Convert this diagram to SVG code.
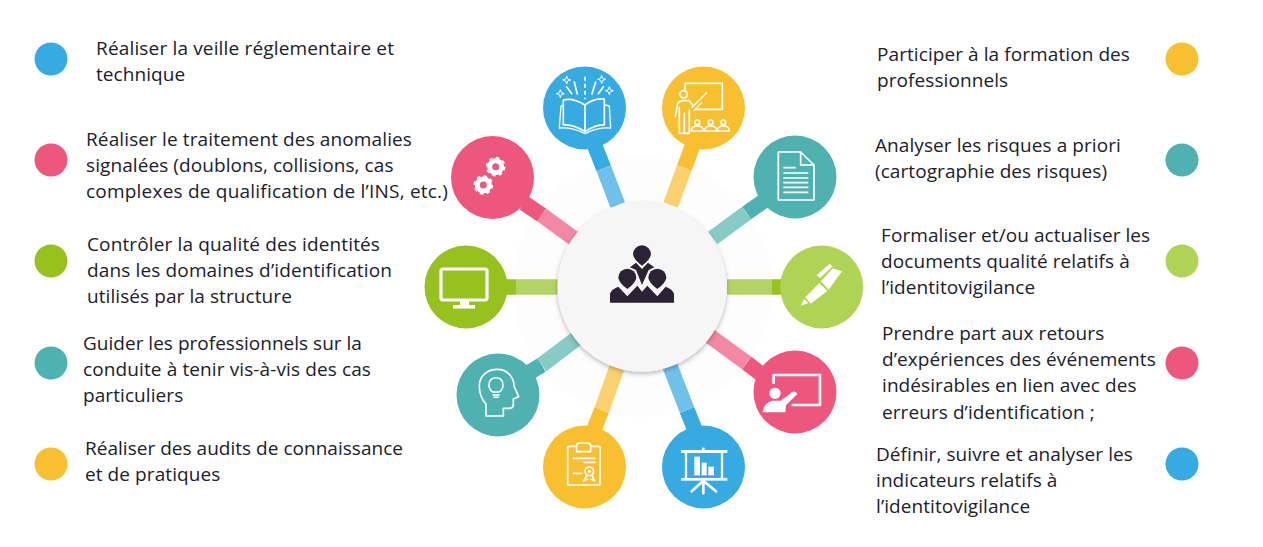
<svg xmlns="http://www.w3.org/2000/svg" width="1263" height="547" viewBox="0 0 1263 547">
<defs>
<style>
.t{font-family:"Open Sans","Noto Sans","Liberation Sans",sans-serif;font-size:19px;letter-spacing:.08px;fill:#20202c}
.s{fill:none;stroke:#fff;stroke-width:5;stroke-linecap:round;stroke-linejoin:round}
.f{fill:#fff}
.blue{fill:#36aae1}.pink{fill:#ee577d}.green{fill:#96c11f}.yellow{fill:#f8c030}.teal{fill:#50b1b1}.lime{fill:#afd355}
.c{fill:none;stroke-width:15.5}
</style>
<filter id="sh" x="-20%" y="-20%" width="140%" height="140%"><feDropShadow dx="0" dy="2" stdDeviation="2.5" flood-color="#000" flood-opacity=".28"/></filter>
<g id="gear"><circle r="25" fill="none" stroke="#fff" stroke-width="9" stroke-dasharray="10 9.6"/><circle r="18" fill="none" stroke="#fff" stroke-width="15"/></g>
<path id="star" d="M0,-12 L3,-3 L12,0 L3,3 L0,12 L-3,3 L-12,0 L-3,-3Z" fill="none" stroke="#fff" stroke-width="3"/>
<g id="aud"><circle cx="0" cy="-26" r="7" class="s"/><path d="M-18,0 Q-18,-15 0,-15 Q18,-15 18,0Z" class="s"/></g>
<path id="head" d="M-27,0 A27,27 0 1 1 27,0 Q25,16 0,34 Q-25,16 -27,0Z"/>
</defs>
<rect width="1263" height="547" fill="#fff"/>
<circle cx="642" cy="287" r="130" fill="#fdfdfd"/>

<g id="connectors">
<path class="c" stroke="#36aae1" d="M592,139 L603.7,168.3"/><path class="c" stroke="#70c1e9" d="M603.7,168.3 L617.7,205"/>
<path class="c" stroke="#ee577d" d="M524,203 L541.7,215"/><path class="c" stroke="#f288a4" d="M541.7,215 L573.3,238"/>
<path class="c" stroke="#96c11f" d="M500,287 H516"/><path class="c" stroke="#b2d465" d="M516,287 H560"/>
<path class="c" stroke="#50b1b1" d="M768,198 L746.7,213"/><path class="c" stroke="#88cbc6" d="M746.7,213 L712.7,238"/>
<path class="c" stroke="#f8c030" d="M695,139 L684.3,168"/><path class="c" stroke="#f9d26f" d="M684.3,168 L670.7,205"/>
<path class="c" stroke="#96c11f" d="M790,287 H772"/><path class="c" stroke="#b2d465" d="M772,287 H727"/>
<path class="c" stroke="#ee577d" d="M765,377 L746.7,363"/><path class="c" stroke="#f288a4" d="M746.7,363 L708.3,335"/>
<path class="c" stroke="#36aae1" d="M695,430 L687,410"/><path class="c" stroke="#70c1e9" d="M687,410 L670,366"/>
<path class="c" stroke="#f8c030" d="M593,432 L601.7,410"/><path class="c" stroke="#f9d26f" d="M601.7,410 L616.7,368"/>
<path class="c" stroke="#50b1b1" d="M525,375 L541.7,365"/><path class="c" stroke="#88cbc6" d="M541.7,365 L576,339"/>
</g>

<g id="hub">
<circle cx="642" cy="287" r="84.5" fill="#f6f6f6" filter="url(#sh)"/>
<g transform="translate(550,195) scale(.3333)" fill="#2a2333">
<path d="M180,323 V296 Q184,283 205,275 L232,304 L262,272 L276,290 L292,272 L322,304 L347,275 Q368,283 372,296 V323Z"/>
<path d="M240,217 L258,203 L276,222 L294,203 L313,217 L296,225 L276,270 L258,225Z"/>
<use href="#head" x="276" y="178"/>
<use href="#head" x="232" y="248"/>
<use href="#head" x="322" y="248"/>
</g>
</g>

<g id="node-book">
<circle class="blue" cx="584.5" cy="108" r="41.5"/>
<g transform="translate(420,50) scale(.3333)">
<path class="s" d="M495,165 C470,150 450,145 430,150 V225 C455,222 475,232 495,245 C515,232 535,222 553,225 V147 C535,145 515,150 495,165 V245"/>
<path class="s" style="stroke-width:4" d="M430,165 L423,168 L418,234 C450,232 475,240 495,251 C515,240 540,232 572,234 L568,168 L555,165"/>
<path class="s" d="M495,80 V148" stroke-dasharray="12 9" style="stroke-linecap:butt"/>
<path class="s" d="M440,110 L455,131 M463,96 L472,132 M550,110 L535,131 M527,96 L516,132"/>
<use href="#star" x="440" y="90"/><use href="#star" x="421" y="131"/><use href="#star" x="545" y="88"/><use href="#star" x="568" y="122"/>
</g>
</g>

<g id="node-gears">
<circle class="pink" cx="492.5" cy="177.5" r="41.5"/>
<g transform="translate(420,50) scale(.3333)"><use href="#gear" x="227" y="350"/><use href="#gear" x="190" y="405"/></g>
</g>

<g id="node-monitor">
<circle class="green" cx="466" cy="287" r="41.5"/>
<rect x="441" y="269" width="46" height="31" rx="2" fill="none" stroke="#fff" stroke-width="3.2"/>
<rect class="f" x="460" y="301" width="9" height="4"/><rect class="f" x="453" y="305" width="22" height="3.5"/>
</g>

<g id="node-head">
<circle class="teal" cx="498" cy="395" r="41.5"/>
<g transform="translate(420,280) scale(.3333)">
<path class="s" d="M198,408 V372 Q178,350 178,318 C178,285 205,268 232,268 C265,268 282,295 282,318 L296,350 L280,357 V375 Q280,385 265,385 H250 V408Z"/>
<path class="s" style="stroke-width:4.5" d="M218,336 C200,322 205,293 228,293 C251,293 256,322 238,336Z M219,345 H238 M222,352 H235"/>
</g>
</g>

<g id="node-cert">
<circle class="yellow" cx="584.5" cy="467" r="41.5"/>
<g transform="translate(420,280) scale(.3333)">
<path class="s" d="M470,499 H447 Q443,499 443,503 V611 Q443,615 447,615 H536 Q540,615 540,611 V503 Q540,499 536,499 H512 M470,515 V497 Q470,489 480,489 H502 Q512,489 512,497 V515Z"/>
<path class="s" d="M460,535 H525 M492,547 H525 M460,580 H485"/>
<circle class="s" cx="508" cy="574" r="13"/><circle class="f" cx="508" cy="574" r="5"/>
<path class="s" d="M500,586 L492,602 L503,598 M516,586 L524,602 L513,598"/>
</g>
</g>

<g id="node-chart">
<circle class="blue" cx="703.5" cy="467" r="41.5"/>
<g transform="translate(640,280) scale(.3333)">
<rect class="f" x="123" y="510" width="139" height="9"/><rect class="f" x="186" y="503" width="8" height="8"/>
<path fill="none" stroke="#fff" stroke-width="7" d="M138,518 V598 M246,518 V598"/>
<rect class="f" x="163" y="530" width="17" height="56"/><rect class="f" x="185" y="548" width="15" height="38"/><rect class="f" x="205" y="560" width="17" height="26"/>
<rect class="f" x="123" y="594" width="139" height="8"/>
<path fill="none" stroke="#fff" stroke-width="8" stroke-linecap="round" d="M190,602 V640 M186,606 L155,634 M194,606 L228,634"/>
</g>
</g>

<g id="node-presenter">
<circle class="pink" cx="795" cy="392" r="41.5"/>
<g transform="translate(640,280) scale(.3333)">
<path fill="none" stroke="#fff" stroke-width="8" stroke-linejoin="round" d="M401,312 V285 H540 V375 H455"/>
<circle class="f" cx="405" cy="340" r="17"/>
<path class="f" d="M368,397 Q372,367 398,362 H422 L458,335 Q468,332 472,342 L438,376 L436,397Z"/>
</g>
</g>

<g id="node-pencil">
<circle class="lime" cx="821.7" cy="287" r="41.5"/>
<g transform="translate(770,240) scale(.3333)" class="f">
<path d="M93,197 L102,176 L115,189Z"/>
<path d="M106,172 L148,129 L172,153 L122,191Z"/>
<path d="M153,124 L188,85 L216,94 L176,149Z"/>
<path d="M140,106 L178,72 L188,79 L150,114Z"/>
</g>
</g>

<g id="node-doc">
<circle class="teal" cx="795" cy="177" r="41.5"/>
<g transform="translate(640,50) scale(.3333)">
<path class="s" d="M415,306 H482 L522,345 V450 H415Z M482,306 V345 H522"/>
<path class="s" style="stroke-linecap:butt" d="M430,353 H467 M430,369 H505 M430,384 H505 M430,398 H505 M430,412 H505 M430,427 H505"/>
</g>
</g>

<g id="node-teacher">
<circle class="yellow" cx="703.5" cy="108" r="41.5"/>
<g transform="translate(640,50) scale(.3333)">
<path class="s" d="M135,118 V100 H247 V178 H170"/>
<path class="s" style="stroke-width:4" d="M156,172 L200,128 M162,182 L185,158"/>
<circle class="s" cx="131" cy="133" r="11"/>
<path class="s" d="M106,200 L112,165 Q115,152 130,152 H148 L158,165 M118,172 V250 H148 V180 M133,190 V250"/>
<use href="#aud" x="172" y="243"/><use href="#aud" x="212" y="243"/><use href="#aud" x="250" y="243"/>
</g>
</g>

<g id="bullets">
<circle class="blue" cx="51" cy="59" r="16.5"/><circle class="pink" cx="51" cy="160" r="16.5"/><circle class="green" cx="51" cy="261" r="16.5"/><circle class="teal" cx="51" cy="363" r="16.5"/><circle class="yellow" cx="51" cy="464" r="16.5"/>
<circle class="yellow" cx="1182" cy="59" r="16.5"/><circle class="teal" cx="1182" cy="160" r="16.5"/><circle class="lime" cx="1182" cy="261" r="16.5"/><circle class="pink" cx="1182" cy="363" r="16.5"/><circle class="blue" cx="1182" cy="464" r="16.5"/>
</g>

<g id="labels" transform="translate(0,.5)">
<text class="t" x="96" y="54" textLength="298">Réaliser la veille réglementaire et</text>
<text class="t" x="96" y="80">technique</text>
<text class="t" x="86" y="145" textLength="326">Réaliser le traitement des anomalies</text>
<text class="t" x="86" y="171">signalées (doublons, collisions, cas</text>
<text class="t" x="86" y="197" textLength="362">complexes de qualification de l’INS, etc.)</text>
<text class="t" x="87" y="250" textLength="293">Contrôler la qualité des identités</text>
<text class="t" x="87" y="276" textLength="305">dans les domaines d’identification</text>
<text class="t" x="87" y="302">utilisés par la structure</text>
<text class="t" x="83" y="349" textLength="279">Guider les professionnels sur la</text>
<text class="t" x="83" y="375" textLength="288">conduite à tenir vis-à-vis des cas</text>
<text class="t" x="83" y="401">particuliers</text>
<text class="t" x="85" y="454" textLength="318">Réaliser des audits de connaissance</text>
<text class="t" x="85" y="480">et de pratiques</text>
<text class="t" x="877" y="60">Participer à la formation des</text>
<text class="t" x="877" y="86">professionnels</text>
<text class="t" x="875" y="151">Analyser les risques a priori</text>
<text class="t" x="875" y="177">(cartographie des risques)</text>
<text class="t" x="881" y="241">Formaliser et/ou actualiser les</text>
<text class="t" x="881" y="267">documents qualité relatifs à</text>
<text class="t" x="881" y="293">l’identitovigilance</text>
<text class="t" x="882" y="339">Prendre part aux retours</text>
<text class="t" x="882" y="365">d’expériences des événements</text>
<text class="t" x="882" y="391">indésirables en lien avec des</text>
<text class="t" x="882" y="418">erreurs d’identification ;</text>
<text class="t" x="876" y="460">Définir, suivre et analyser les</text>
<text class="t" x="876" y="486">indicateurs relatifs à</text>
<text class="t" x="876" y="512">l’identitovigilance</text>
</g>
</svg>
